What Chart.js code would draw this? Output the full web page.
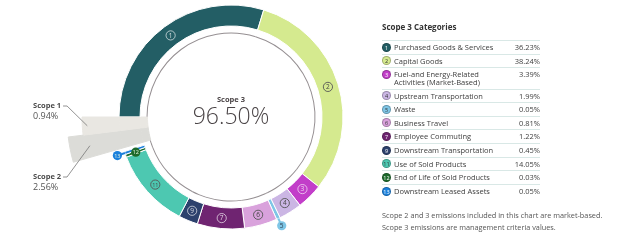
<!DOCTYPE html>
<html>
<head>
<meta charset="utf-8">
<script src="https://cdn.jsdelivr.net/npm/chart.js@4.4.0/dist/chart.umd.min.js"></script>
<style>
  body { margin: 0; width: 630px; height: 242px; background: #fff; overflow: hidden; position: relative;
         font-family: 'Open Sans', 'Noto Sans', sans-serif; color: #404040; }
  #wrap { position: absolute; left: 0; top: 0; width: 462px; height: 234px; }
  #legend { position: absolute; left: 382px; top: 21px; width: 158px; font-size: 7.5px; }
  #legend .title { font-weight: 700; font-size: 8px; color: #333; height: 19px; }
  .row { display: flex; align-items: flex-start; border-top: 1px solid #d9e8e6; padding: 2px 0 2px 0; line-height: 8.2px; }
  .row .badge { flex: 0 0 9px; height: 9px; margin-top: -0.4px; border-radius: 50%; margin-right: 3px; font-size: 5.5px; line-height: 9px;
                text-align: center; box-sizing: border-box; border: 0.6px solid rgba(0,0,0,0.25); }
  .row .name { flex: 1 1 auto; }
  .row .pct { flex: 0 0 30px; text-align: right; }
  #note { position: absolute; left: 382px; top: 209px; font-size: 7.3px; line-height: 12px; color: #555; }
</style>
</head>
<body>
<div id="wrap"><canvas id="chart"></canvas></div>
<div id="legend"><div class="title">Scope 3 Categories</div><div id="rows"></div></div>
<div id="note">Scope 2 and 3 emissions included in this chart are market-based.<br>Scope 3 emissions are management criteria values.</div>
<script>
// Scope 3 categories, in ring order (clockwise from 9 o'clock)
const categoryNos = [1, 2, 3, 4, 5, 6, 7, 9, 11, 12, 13];
const categories = [
  'Purchased Goods & Services', 'Capital Goods', 'Fuel-and Energy-Related Activities (Market-Based)',
  'Upstream Transportation', 'Waste', 'Business Travel', 'Employee Commuting',
  'Downstream Transportation', 'Use of Sold Products', 'End of Life of Sold Products', 'Downstream Leased Assets'
];
const categoryShares = [36.23, 38.24, 3.39, 1.99, 0.05, 0.81, 1.22, 0.45, 14.05, 0.03, 0.05];
// arc size of each slice as drawn in the picture (degrees, not proportional to the shares)
const categoryArcs = [107, 111.5, 13.5, 12, 2, 17, 24.5, 10, 41.5, 1.5, 1.5];

const scopeNames = ['Scope 1', 'Scope 2'];
const scopeShares = [0.94, 2.56];
const scopeArcs = [7, 9];
const scope3Total = 96.50;

const categoryColors = ['#235e65', '#d5ea8f', '#c23ec9', '#cbb6e4', '#7fc6e6', '#d9a2dc',
                        '#6f2471', '#2c416d', '#4dc8b1', '#1d6a2b', '#1a80dc'];
const scopeColors = ['#e9e7e2', '#dcdcd8'];
const lineGrey = '#958f92';

const n = categories.length;
const gap = 360 - categoryArcs.reduce((a, b) => a + b, 0) - scopeArcs[0] - scopeArcs[1];
// clockwise: categories, small gap, scope 2, scope 1
const arcs = [...categoryArcs, gap, scopeArcs[1], scopeArcs[0]];
const S2 = n + 1, S1 = n + 2;

function lum(hex) {
  const v = parseInt(hex.slice(1), 16);
  return 0.299 * (v >> 16) + 0.587 * ((v >> 8) & 255) + 0.114 * (v & 255);
}

function ringSet(weight, show) {
  const bg = arcs.map((_, i) => {
    if (i < n) return show.ring ? categoryColors[i] : (show.line ? lineGrey : 'transparent');
    if (i === S2) return show.s2 ? scopeColors[1] : 'transparent';
    if (i === S1) return show.s1 ? scopeColors[0] : 'transparent';
    return show.line ? lineGrey : 'transparent';
  });
  const bw = bg.map((c) => (c === 'transparent' || c === lineGrey ? 0 : 1));
  const bc = bg.map((c, i) => (i < n ? '#ffffff' : c));
  return { data: arcs, weight, backgroundColor: bg, borderColor: bc, borderWidth: bw, clip: false };
}

const outsideBadges = [5, 13];

const overlay = {
  id: 'overlay',
  afterDatasetsDraw(chart) {
    const ctx = chart.ctx;
    const ring = chart.getDatasetMeta(2).data;
    const cx = ring[0].x, cy = ring[0].y;
    ctx.save();

    // centre text
    ctx.textAlign = 'center';
    ctx.fillStyle = '#4a4446';
    ctx.font = 'bold 7.5px "Open Sans"';
    ctx.textBaseline = 'middle';
    ctx.fillText('Scope 3', cx, cy - 17);
    ctx.font = '300 23px "Open Sans"';
    ctx.textBaseline = 'alphabetic';
    ctx.fillText(scope3Total.toFixed(2) + '%', cx, cy + 7);

    // category badges
    ring.forEach((arc, i) => {
      if (i >= n) return;
      const mid = (arc.startAngle + arc.endAngle) / 2;
      const thin = arc.endAngle - arc.startAngle < 0.06;
      const out = outsideBadges.includes(categoryNos[i]);
      const r = out ? arc.outerRadius + 8 : (arc.innerRadius + arc.outerRadius) / 2;
      const bx = cx + Math.cos(mid) * r, by = cy + Math.sin(mid) * r;
      const col = categoryColors[i];
      const dark = lum(col) < 140;
      if (out) {
        ctx.strokeStyle = col;
        ctx.lineWidth = 2;
        ctx.beginPath();
        ctx.moveTo(cx + Math.cos(mid) * arc.outerRadius, cy + Math.sin(mid) * arc.outerRadius);
        ctx.lineTo(bx, by);
        ctx.stroke();
      }
      ctx.beginPath();
      ctx.arc(bx, by, 4.6, 0, Math.PI * 2);
      if (thin) {
        ctx.fillStyle = col;
        ctx.fill();
      } else {
        ctx.strokeStyle = dark ? 'rgba(255,255,255,0.7)' : '#555';
        ctx.lineWidth = 0.9;
        ctx.stroke();
      }
      const label = String(categoryNos[i]);
      ctx.fillStyle = thin ? (dark ? '#e8f5e0' : '#2c3e50') : (dark ? 'rgba(255,255,255,0.8)' : '#444');
      ctx.font = (label.length > 1 ? '5.5px' : '6.5px') + ' "Open Sans"';
      ctx.textAlign = 'center';
      ctx.textBaseline = 'middle';
      ctx.fillText(label, bx, by + 0.4);
    });

    // scope 1 / scope 2 labels with leader lines
    const wedges = chart.getDatasetMeta(1).data;
    [S1, S2].forEach((idx, k) => {
      const arc = wedges[idx];
      const mid = (arc.startAngle + arc.endAngle) / 2;
      const r = arc.outerRadius - 5;
      const px = cx + Math.cos(mid) * r, py = cy + Math.sin(mid) * r;
      const ty = k === 0 ? 106 : 177;
      ctx.textAlign = 'left';
      ctx.textBaseline = 'middle';
      ctx.fillStyle = '#4a4a4a';
      ctx.font = 'bold 7.5px "Open Sans"';
      ctx.fillText(scopeNames[k], 33, ty);
      const w = ctx.measureText(scopeNames[k]).width;
      ctx.font = '9px "Open Sans"';
      ctx.fillStyle = '#555';
      ctx.fillText(scopeShares[k].toFixed(2) + '%', 33, ty + 10);
      ctx.strokeStyle = '#777';
      ctx.lineWidth = 0.8;
      ctx.beginPath();
      ctx.moveTo(33 + w + 2, ty);
      ctx.lineTo(33 + w + 6, ty);
      ctx.lineTo(px, py);
      ctx.stroke();
    });
    ctx.restore();
  }
};

new Chart(document.getElementById('chart'), {
  type: 'doughnut',
  data: {
    labels: [...categories, '', scopeNames[1], scopeNames[0]],
    datasets: [
      ringSet(15, { s2: true }),
      ringSet(37, { s1: true, s2: true }),
      ringSet(21, { ring: true, s1: true, s2: true }),
      ringSet(6.5, { s1: true, s2: true }),
      ringSet(1, { line: true, s1: true, s2: true })
    ]
  },
  options: {
    responsive: true,
    maintainAspectRatio: false,
    animation: false,
    events: [],
    radius: 164,
    cutout: (83.5 / 164 * 100) + '%',
    rotation: 270,
    layout: { padding: 0 },
    plugins: { legend: { display: false }, tooltip: { enabled: false } }
  },
  plugins: [overlay]
});

// legend table
const rows = document.getElementById('rows');
categories.forEach((name, i) => {
  const row = document.createElement('div');
  row.className = 'row';
  const ink = lum(categoryColors[i]) < 140 ? '#fff' : '#333';
  row.innerHTML = '<div class="badge" style="background:' + categoryColors[i] + ';color:' + ink + '">' + categoryNos[i] + '</div>' +
    '<div class="name">' + name.replace('&', '&amp;') + '</div><div class="pct">' + categoryShares[i].toFixed(2) + '%</div>';
  rows.appendChild(row);
});
</script>
</body>
</html>
